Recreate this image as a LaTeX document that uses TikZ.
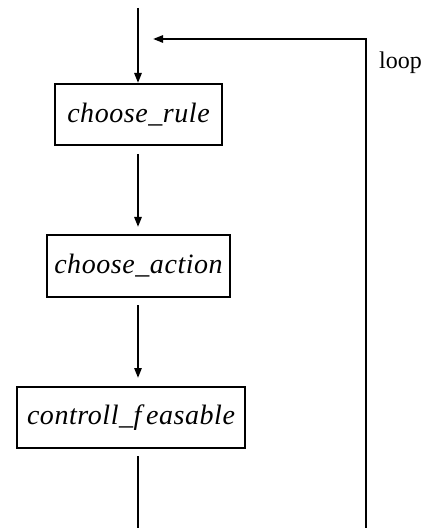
\documentclass[tikz,border=0pt]{standalone}
\usepackage{fontspec}
\setmainfont{Liberation Serif}
\usetikzlibrary{arrows.meta}
\tikzset{
  box/.style={draw, line width=1pt, inner sep=0pt, font=\fontsize{14}{16}\selectfont\itshape\addfontfeatures{LetterSpace=2}},
  flow/.style={line width=1pt, -{Triangle[length=5pt,width=3.6pt]}},
}

\begin{document}
\begin{tikzpicture}[x=0.5pt,y=-0.5pt]
\useasboundingbox (0,0) rectangle (441,528);
% the three steps
\node[box, minimum width=83.5pt, minimum height=30.5pt] (rule) at (138.5,114.5) {choose\_rule};
\node[box, minimum width=91.5pt, minimum height=31pt] (action) at (138.5,266) {choose\_action};
\node[box, minimum width=114pt, minimum height=30.5pt] (feas) at (131,417.5) {controll\_f\,easable};

\coordinate (top) at (138,8);
\coordinate (bot) at (138,528);
\coordinate (lpbot) at (366,528);
\coordinate (lptop) at (366,39);
\coordinate (lpend) at (153,39);

\draw[flow] (top) -- (top |- rule.north);
\draw[flow, shorten <=4pt, shorten >=3.5pt] (top |- rule.south) -- (top |- action.north);
\draw[flow, shorten <=3.5pt, shorten >=4pt] (top |- action.south) -- (top |- feas.north);
\draw[line width=1pt, shorten <=3.5pt] (top |- feas.south) -- (bot);

% back to the start
\draw[flow] (lpbot) -- (lptop) -- (lpend);
\node[font=\fontsize{12}{14}\selectfont] (loop) at (400.5,63) {loop};
\end{tikzpicture}
\end{document}
